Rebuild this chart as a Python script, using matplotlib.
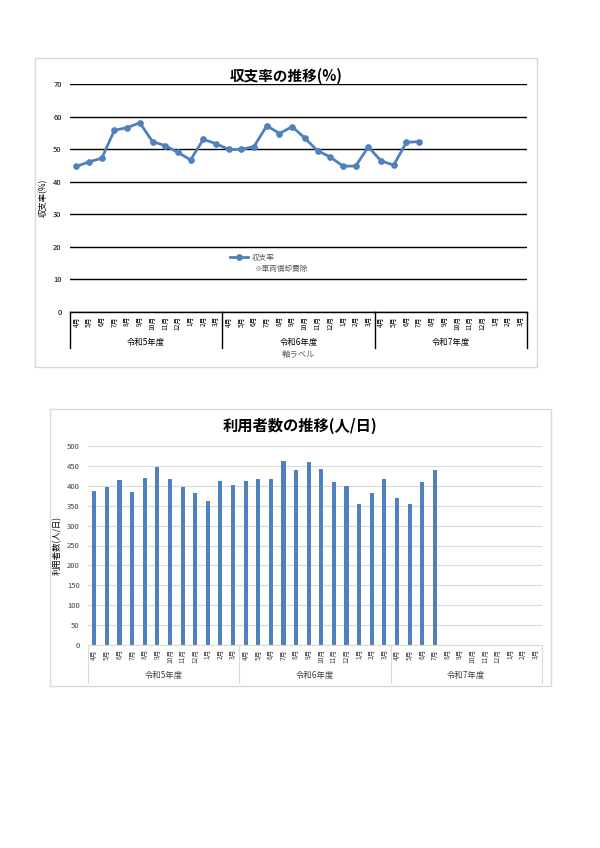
import numpy as np
import matplotlib
matplotlib.use('Agg')
import matplotlib.pyplot as plt
from matplotlib.patches import Rectangle
import matplotlib.transforms as mtransforms

plt.rcParams['font.family'] = ['Noto Sans CJK JP', 'DejaVu Sans']

# ---- data ----
months = ['4月', '5月', '6月', '7月', '8月', '9月', '10月', '11月', '12月', '1月', '2月', '3月']
years = ['令和5年度', '令和6年度', '令和7年度']
categories = months * len(years)

ratio = [44.7, 46.1, 47.2, 55.8, 56.6, 58.1, 52.3, 51.1, 49.0, 46.7, 53.0, 51.7,
         49.9, 49.9, 50.8, 57.2, 54.8, 56.9, 53.4, 49.5, 47.6, 44.8, 44.8, 50.7,
         46.4, 45.1, 52.1, 52.3]
users = [386, 396, 414, 385, 420, 446, 416, 396, 382, 363, 413, 401,
         413, 416, 418, 462, 439, 459, 441, 410, 400, 354, 381, 417,
         370, 354, 410, 440]

ratio_ticks = list(range(0, 71, 10))
users_ticks = list(range(0, 501, 50))

BLUE = '#4F81BD'
W, H = 600, 848

fig = plt.figure(figsize=(W / 100, H / 100), dpi=100)

def fx(px):
    return px / W

def fy(py):
    return 1 - py / H

# chart frames
fig.patches.append(Rectangle((fx(35), fy(367)), fx(537) - fx(35), fy(58) - fy(367),
                             transform=fig.transFigure, fill=False, ec='#d9d9d9', lw=1))
fig.patches.append(Rectangle((fx(50), fy(686)), fx(551) - fx(50), fy(409) - fy(686),
                             transform=fig.transFigure, fill=False, ec='#d9d9d9', lw=1))

x = np.arange(len(categories))
n_per = len(months)
bounds = [i * n_per - 0.5 for i in range(len(years) + 1)]
centers = [i * n_per + (n_per - 1) / 2 for i in range(len(years))]

# ---------------- top chart ----------------
ax1 = fig.add_axes([fx(70), fy(312), fx(527) - fx(70), fy(84) - fy(312)])
ax1.plot(x[:len(ratio)], ratio, color=BLUE, lw=2, marker='o', ms=3.8,
         label='収支率')
ax1.set_xlim(-0.5, len(categories) - 0.5)
ax1.set_ylim(0, 70)
ax1.set_yticks(ratio_ticks)
ax1.grid(axis='y', color='black', lw=1)
ax1.set_axisbelow(True)
for s in ['top', 'right', 'left']:
    ax1.spines[s].set_visible(False)
ax1.spines['bottom'].set_color('black')
ax1.spines['bottom'].set_linewidth(1)
ax1.tick_params(axis='y', length=0, labelsize=5.5, pad=6)
ax1.set_xticks(x)
ax1.set_xticklabels(categories, rotation=90, fontsize=4.8)
ax1.tick_params(axis='x', length=0, pad=3)
ax1.set_ylabel('収支率(%)', fontsize=6)
ax1.yaxis.set_label_coords((48 - 70) / 457, 0.5)

tr1 = mtransforms.blended_transform_factory(ax1.transData, ax1.transAxes)
for b in bounds:
    ax1.plot([b, b], [0, -36 / 228], color='black', lw=1, transform=tr1, clip_on=False)
for c, yname in zip(centers, years):
    ax1.text(c, -30 / 228, yname, transform=tr1, ha='center', va='center', fontsize=6)
ax1.text(0.5, -43 / 228, '軸ラベル', transform=ax1.transAxes, ha='center', va='center',
         fontsize=6, color='#595959')

ax1.legend(loc='center left', bbox_to_anchor=(fx(230), fy(258)), bbox_transform=fig.transFigure,
           frameon=False, fontsize=5.5, handlelength=2.4, handletextpad=0.4,
           labelcolor='#595959', borderpad=0, borderaxespad=0)
fig.text(fx(255), fy(269), '※車両償却費除', ha='left', va='center',
         fontsize=5.5, color='#595959')

fig.text(fx(286), fy(76), '収支率の推移(%)', ha='center', va='center',
         fontsize=10.5, fontweight='bold')

# ---------------- bottom chart ----------------
ax2 = fig.add_axes([fx(88), fy(645), fx(542) - fx(88), fy(446) - fy(645)])
ax2.bar(x[:len(users)], users, width=0.33, color=BLUE)
ax2.set_xlim(-0.5, len(categories) - 0.5)
ax2.set_ylim(0, 500)
ax2.set_yticks(users_ticks)
ax2.grid(axis='y', color='#d9d9d9', lw=0.8)
ax2.set_axisbelow(True)
for s in ['top', 'right', 'left']:
    ax2.spines[s].set_visible(False)
ax2.spines['bottom'].set_color('#d9d9d9')
ax2.tick_params(axis='y', length=0, labelsize=5.5, pad=6, labelcolor='#404040')
ax2.set_xticks(x)
ax2.set_xticklabels(categories, rotation=90, fontsize=4.8, color='#404040')
ax2.tick_params(axis='x', length=0, pad=3)
ax2.set_ylabel('利用者数(人/日)', fontsize=6)
ax2.yaxis.set_label_coords((62 - 88) / 454, 0.5)

tr2 = mtransforms.blended_transform_factory(ax2.transData, ax2.transAxes)
for b in bounds:
    ax2.plot([b, b], [0, -38 / 199], color='#d9d9d9', lw=0.8, transform=tr2, clip_on=False)
for c, yname in zip(centers, years):
    ax2.text(c, -30 / 199, yname, transform=tr2, ha='center', va='center', fontsize=6,
             color='#404040')

fig.text(fx(300), fy(426), '利用者数の推移(人/日)', ha='center', va='center',
         fontsize=11, fontweight='bold')

fig.savefig('out.png', dpi=100)
